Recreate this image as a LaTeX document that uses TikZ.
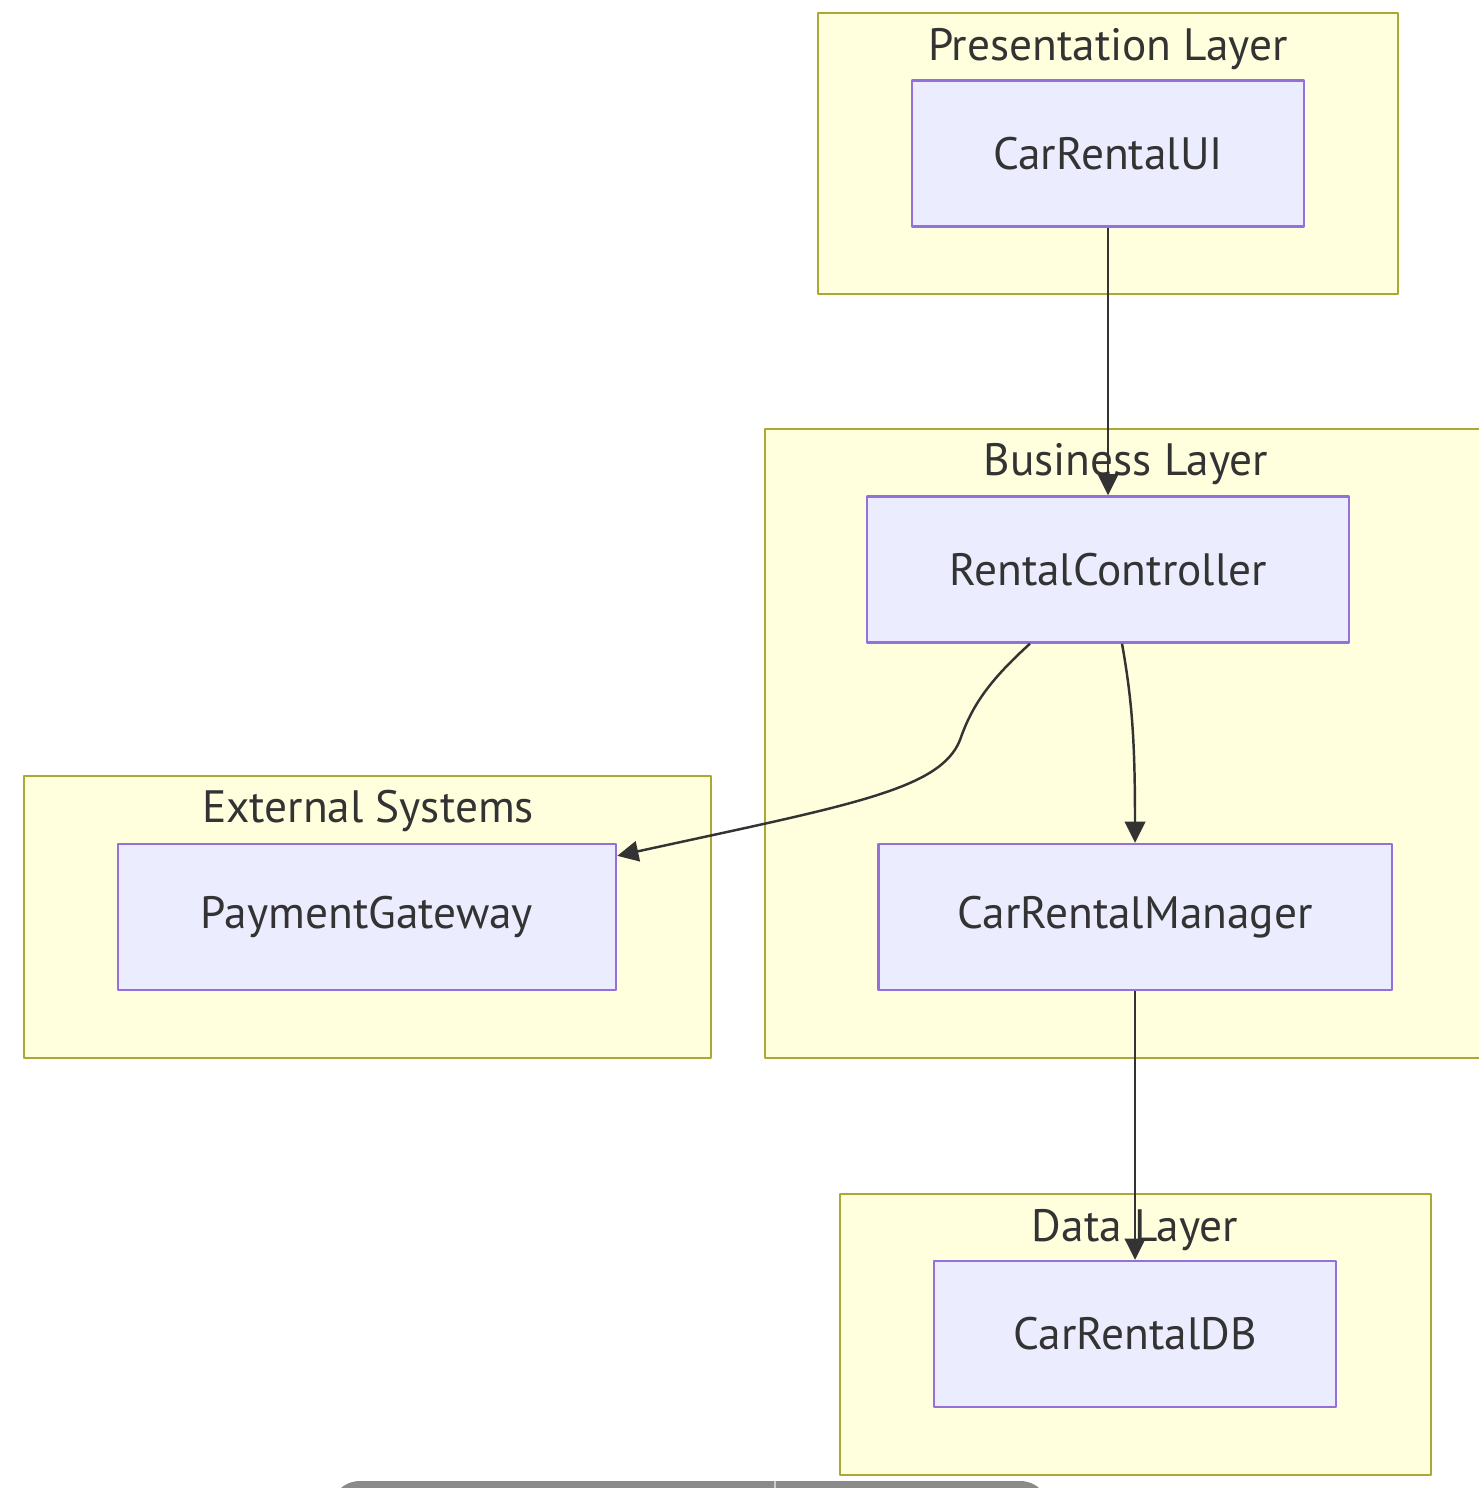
\documentclass[tikz,border=0pt]{standalone}
\usepackage{fontspec}
\setmainfont{PT Sans}
\usetikzlibrary{arrows.meta}
\definecolor{clfill}{HTML}{FFFFDE}
\definecolor{clline}{HTML}{AAAA33}
\definecolor{boxfill}{HTML}{ECECFF}
\definecolor{boxline}{HTML}{9370DB}
\definecolor{txt}{HTML}{333333}
\definecolor{barcol}{HTML}{8A8A8A}
\begin{document}
\begin{tikzpicture}[x=0.01cm, y=-0.01cm, font=\fontsize{12.9}{15}\selectfont, text=txt, line join=round,
  cluster/.style={draw=clline, fill=clfill, line width=0.65pt},
  box/.style={rectangle, draw=boxline, fill=boxfill, line width=0.65pt, minimum height=1.46cm, inner sep=0pt},
  edge/.style={draw=txt, line width=0.7pt, -{Triangle[length=6pt,width=5.8pt]}}]
\useasboundingbox (0,0) rectangle (1479,1488);
\clip (0,0) rectangle (1479,1488);
\fill[white] (0,0) rectangle (1479,1488);
%Các nhóm (cluster)
\draw[cluster] (818,13) rectangle (1398,294);
\draw[cluster] (765,429) rectangle (1500,1058);
\draw[cluster] (24,776) rectangle (711,1058);
\draw[cluster] (840,1194) rectangle (1431,1475);
\node (tpres) at (1108,49) {Presentation Layer};
\node (tbus) at (1126,464) {Business Layer};
\node (text) at (368,811) {External Systems};
\node (tdata) at (1135,1230) {Data Layer};
%Các khối
\node[box, minimum width=3.92cm] (ui) at (1108,153.5) {CarRentalUI};
\node[box, minimum width=4.82cm] (rc) at (1108,569.5) {RentalController};
\node[box, minimum width=5.13cm] (cm) at (1135,917) {CarRentalManager};
\node[box, minimum width=4.98cm] (pg) at (367,917) {PaymentGateway};
\node[box, minimum width=4.02cm] (db) at (1135,1334) {CarRentalDB};
%Mũi tên
\draw[edge] (ui) -- (rc);
\draw[edge] ([xshift=-0.78cm]rc.south) .. controls (990,680) and (972,705) .. (960,740)
  .. controls (940,790) and (850,805) .. ([yshift=-0.13cm]pg.north east);
\draw[edge] ([xshift=0.14cm]rc.south) .. controls (1132,700) and (1135,740) .. (cm.north);
\draw[edge] (cm) -- (db);
%Thanh cuộn
\fill[barcol, rounded corners=0.3cm] (330,1481) rectangle (1050,1530);
\draw[gray!40, line width=0.4pt] (775,1481) -- (775,1488);
\end{tikzpicture}
\end{document}
